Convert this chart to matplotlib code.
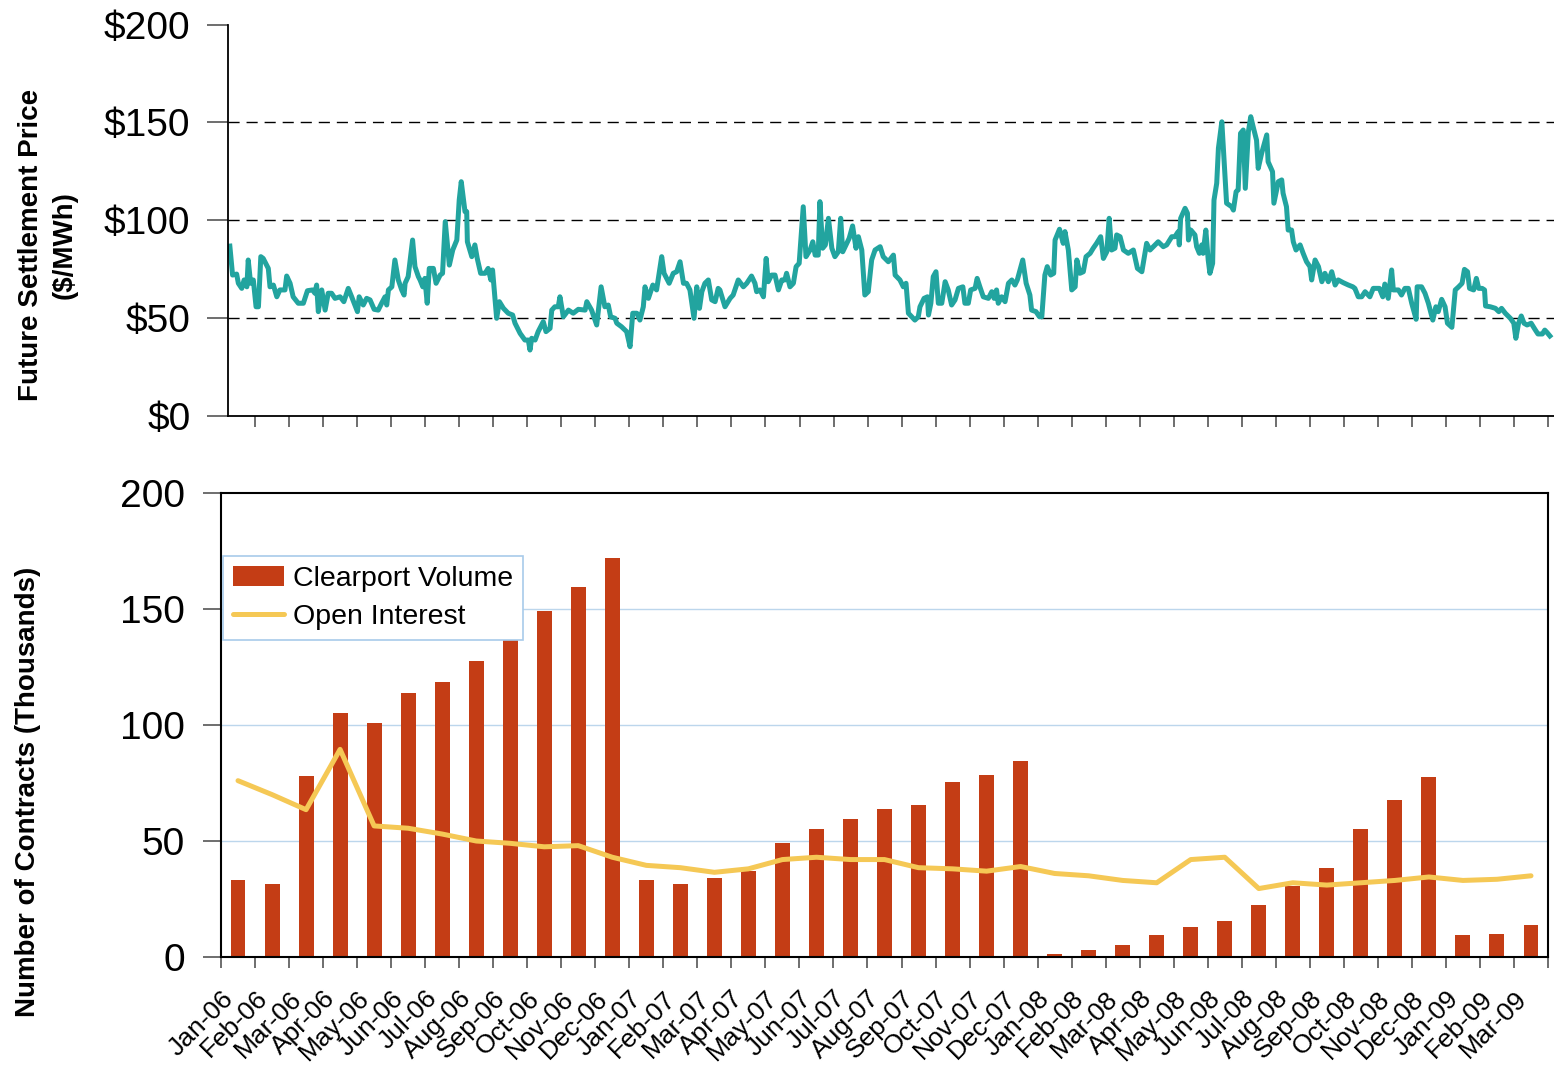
import matplotlib
matplotlib.use('Agg')
import matplotlib.pyplot as plt
import numpy as np

plt.rcParams['font.family'] = ['Liberation Sans', 'DejaVu Sans']

# monthly data, Jan-06 .. Mar-09
months = ['Jan-06', 'Feb-06', 'Mar-06', 'Apr-06', 'May-06', 'Jun-06', 'Jul-06', 'Aug-06',
          'Sep-06', 'Oct-06', 'Nov-06', 'Dec-06', 'Jan-07', 'Feb-07', 'Mar-07', 'Apr-07',
          'May-07', 'Jun-07', 'Jul-07', 'Aug-07', 'Sep-07', 'Oct-07', 'Nov-07', 'Dec-07',
          'Jan-08', 'Feb-08', 'Mar-08', 'Apr-08', 'May-08', 'Jun-08', 'Jul-08', 'Aug-08',
          'Sep-08', 'Oct-08', 'Nov-08', 'Dec-08', 'Jan-09', 'Feb-09', 'Mar-09']
clearport_volume = [33, 31.5, 78, 105, 101, 114, 118.5, 127.5, 137, 149, 159.5, 172,
                    33, 31.5, 34, 37, 49, 55, 59.5, 64, 65.5, 75.5, 78.5, 84.5,
                    1.2, 3, 5, 9.5, 13, 15.5, 22.5, 30.5, 38.5, 55, 67.5, 77.5,
                    9.5, 10, 14]
open_interest = [76, 70, 63.5, 89.5, 56.5, 55.5, 53, 50, 49, 47.5, 48, 43,
                 39.5, 38.5, 36.5, 38, 42, 43, 42, 42, 38.5, 38, 37, 39,
                 36, 35, 33, 32, 42, 43, 29.5, 32, 31, 32, 33, 34.5,
                 33, 33.5, 35]

# daily settlement price (sampled), time in months since 1 Jan 2006
price_t = [0.26, 0.34, 0.46, 0.51, 0.61, 0.68, 0.76, 0.80, 0.87, 0.95, 1.03, 1.10, 1.17, 1.24,
           1.39, 1.44, 1.54, 1.64, 1.73, 1.88, 1.93, 2.03, 2.12, 2.27, 2.42, 2.54, 2.69, 2.76,
           2.81, 2.86, 2.96, 3.06, 3.15, 3.25, 3.35, 3.50, 3.61, 3.74, 3.84, 4.01, 4.06, 4.18,
           4.28, 4.38, 4.50, 4.62, 4.72, 4.82, 4.87, 4.92, 5.02, 5.11, 5.21, 5.31, 5.38, 5.41,
           5.50, 5.63, 5.70, 5.80, 5.85, 5.93, 5.99, 6.06, 6.12, 6.24, 6.32, 6.44, 6.51, 6.59,
           6.71, 6.81, 6.93, 7.00, 7.06, 7.17, 7.22, 7.24, 7.37, 7.46, 7.53, 7.63, 7.76, 7.85,
           7.93, 7.98, 8.10, 8.18, 8.30, 8.44, 8.57, 8.64, 8.79, 8.93, 9.03, 9.08, 9.13, 9.23,
           9.32, 9.47, 9.55, 9.67, 9.72, 9.81, 9.91, 9.96, 10.06, 10.21, 10.35, 10.50, 10.70,
           10.75, 10.89, 11.04, 11.17, 11.28, 11.38, 11.45, 11.58, 11.63, 11.77, 11.87, 11.92,
           12.02, 12.10, 12.22, 12.31, 12.41, 12.46, 12.56, 12.69, 12.80, 12.95, 13.02, 13.17,
           13.29, 13.39, 13.49, 13.59, 13.68, 13.78, 13.90, 13.98, 14.06, 14.13, 14.22, 14.32,
           14.42, 14.52, 14.61, 14.66, 14.81, 14.96, 15.05, 15.20, 15.35, 15.45, 15.59, 15.69,
           15.74, 15.84, 15.94, 16.02, 16.08, 16.18, 16.28, 16.38, 16.48, 16.57, 16.62, 16.72,
           16.82, 16.90, 16.99, 17.11, 17.19, 17.31, 17.39, 17.46, 17.55, 17.60, 17.68, 17.76,
           17.85, 17.95, 18.04, 18.14, 18.21, 18.27, 18.39, 18.46, 18.56, 18.66, 18.73, 18.83,
           18.92, 19.02, 19.12, 19.22, 19.37, 19.46, 19.61, 19.76, 19.81, 19.95, 20.05, 20.13,
           20.20, 20.30, 20.39, 20.49, 20.54, 20.66, 20.76, 20.79, 20.86, 20.93, 21.01, 21.08,
           21.18, 21.28, 21.37, 21.47, 21.57, 21.67, 21.80, 21.86, 21.96, 22.03, 22.16, 22.22,
           22.30, 22.40, 22.55, 22.65, 22.72, 22.79, 22.84, 22.94, 23.04, 23.14, 23.24, 23.33,
           23.40, 23.48, 23.56, 23.66, 23.77, 23.82, 23.95, 24.05, 24.12, 24.21, 24.28, 24.38,
           24.47, 24.51, 24.64, 24.75, 24.80, 24.90, 25.00, 25.10, 25.15, 25.24, 25.34, 25.42,
           25.54, 25.63, 25.73, 25.85, 25.93, 26.03, 26.10, 26.17, 26.27, 26.32, 26.42, 26.52,
           26.66, 26.81, 26.93, 27.06, 27.20, 27.30, 27.45, 27.54, 27.69, 27.79, 27.94, 28.03,
           28.13, 28.16, 28.20, 28.33, 28.40, 28.43, 28.50, 28.62, 28.67, 28.75, 28.82, 28.86,
           28.94, 29.01, 29.06, 29.14, 29.18, 29.26, 29.31, 29.41, 29.47, 29.55, 29.70, 29.75,
           29.83, 29.89, 29.96, 30.04, 30.10, 30.19, 30.26, 30.33, 30.43, 30.48, 30.58, 30.73,
           30.77, 30.90, 30.94, 31.00, 31.07, 31.17, 31.21, 31.31, 31.36, 31.46, 31.51, 31.59,
           31.71, 31.80, 31.90, 32.00, 32.05, 32.15, 32.25, 32.35, 32.44, 32.54, 32.64, 32.74,
           32.83, 32.98, 33.13, 33.26, 33.32, 33.42, 33.52, 33.62, 33.76, 33.86, 34.04, 34.14,
           34.20, 34.30, 34.40, 34.45, 34.60, 34.69, 34.79, 34.89, 34.99, 35.12, 35.15, 35.28,
           35.38, 35.48, 35.61, 35.70, 35.77, 35.87, 35.97, 36.04, 36.17, 36.27, 36.37, 36.47,
           36.54, 36.63, 36.69, 36.81, 36.89, 36.96, 37.06, 37.13, 37.16, 37.30, 37.45, 37.55,
           37.63, 37.74, 37.89, 37.99, 38.05, 38.13, 38.21, 38.29, 38.38, 38.50, 38.61, 38.70,
           38.83, 38.90, 38.97, 39.05]
price = [86.8, 72, 72.5, 67.8, 65.2, 69.5, 66, 79.7, 67.8, 69.5, 55.8, 55.8, 81.4, 80.5,
         75.4, 66, 66.9, 60.9, 64.4, 64.4, 71.5, 67.8, 60.9, 57.6, 57.6, 64, 64.4, 62.7,
         66.9, 53.3, 64.4, 54.1, 62.7, 62.7, 60.1, 60.9, 58.4, 65.2, 60.9, 53.3, 60.9, 56.7,
         60.1, 59.3, 54.5, 54.1, 57.6, 60.9, 56.7, 64.4, 66, 79.7, 69.5, 64.4, 61.8, 67.8,
         71.2, 89.9, 76.3, 71.2, 69.5, 66, 70.3, 57.6, 75.4, 75.4, 67.8, 72, 72.9, 99.3,
         77.1, 84.8, 89.9, 110.3, 119.7, 104.4, 104.4, 89, 81.4, 87.4, 80.5, 72.9, 72.9, 75.4,
         69.5, 74.6, 49.9, 58.4, 55, 52.5, 51.6, 47.4, 42.2, 38.8, 38.8, 33.7, 39.7, 38.8,
         43.1, 48.2, 43.1, 44.8, 54.1, 55.8, 55.8, 60.9, 50.7, 54.1, 52.5, 54.5, 54.1,
         58.4, 54.1, 46.5, 66, 55.8, 56.7, 50.7, 49.9, 47.4, 45.6, 43.9, 43.1,
         35.4, 52.5, 52.5, 49, 55.8, 66, 60.1, 66.9, 64.4, 81.4, 72.9, 67.8,
         72.9, 73.7, 78.8, 67.8, 67.8, 64.4, 49.9, 66, 55, 63.5, 67.8, 69.5,
         59.3, 58.4, 65.2, 64.4, 55.8, 60.1, 61.8, 69.5, 66, 67.8, 71.5, 67.8,
         63.5, 64.4, 60.9, 80.5, 68.6, 72, 72, 64.4, 69.5, 69.5, 72.9, 66,
         67.8, 76.3, 78, 106.9, 81.4, 84.8, 89, 82.2, 82.2, 109.5, 85.7, 87.4,
         101, 85.7, 81.4, 83.9, 101, 83.9, 88.2, 90.8, 97.1, 85.7, 91.6, 84.8,
         61.8, 63.5, 79.7, 84.8, 86.5, 81.4, 78.8, 82.2, 72, 69.5, 66, 67.8,
         52.5, 50.7, 49, 50.7, 55.8, 60.1, 60.9, 51.6, 57.6, 71.2, 73.7, 57.6,
         57.6, 68.6, 64.4, 56.7, 59.3, 65.2, 66, 57.6, 57.6, 64.4, 65.2, 70.3,
         66, 60.9, 60.1, 63.5, 60.1, 64.4, 57.6, 60.9, 58.4, 67.8, 69.5, 66.9,
         69.5, 74.6, 79.7, 67.8, 61.8, 54.1, 53.3, 50.7, 50.7, 72, 76.3, 72,
         72.9, 89.9, 95.4, 88.2, 94.2, 84.8, 64.4, 66, 79.7, 72.9, 73.7, 81.4,
         83.1, 85.7, 88.2, 91.6, 80.5, 83.9, 101, 84.8, 85.7, 92.5, 91.6, 84.8,
         83.1, 84.8, 75.4, 73.7, 88.2, 84.8, 87.4, 89, 86.5, 87.4, 91.6, 91.6,
         94.2, 87.4, 101, 106.1, 103.6, 89.9, 95, 92.5, 86.5, 83.1, 87.4, 83.1,
         95, 79.7, 72.9, 78, 110.3, 118.9, 136.8, 150.3, 132.5, 108.7, 106.9, 105.2,
         114.6, 115.5, 144.4, 146.1, 116.3, 145.2, 152.9, 147.8, 140.9, 126.5, 134.2, 143.6,
         129.9, 124.8, 108.7, 113.8, 119.7, 120.6, 113.8, 106.9, 95, 95, 89, 84.8,
         87.4, 83.1, 78.8, 76.3, 69.5, 79.7, 76.3, 68.6, 72.9, 68.6, 73.7, 66.9,
         69.5, 68.1, 66.9, 66, 65.2, 60.9, 60.9, 63.5, 60.9, 65.2, 65.2, 60.9,
         67.4, 60.1, 74.6, 64.4, 64.4, 61.8, 65.2, 65.2, 57.6, 49.4, 66, 66,
         62.7, 57.6, 49, 55.8, 53.3, 59.6, 55.8, 47.4, 45.3, 64.4, 66, 67.8,
         74.9, 73.7, 65.2, 64.4, 70.3, 65.2, 65.2, 64.4, 56.2, 55.8, 55, 53.3,
         55, 52.5, 49.9, 47.4, 39.7, 47.4, 51.1, 47.4, 46.5, 47.4, 44.3, 41.9,
         41.9, 43.9, 42.6, 40.9]

W, H = 1554, 1069
fig = plt.figure(figsize=(W / 100, H / 100), dpi=100)

def px_box(left, top, right, bottom):
    return [left / W, 1 - bottom / H, (right - left) / W, (bottom - top) / H]

tick_font = 28
x = np.arange(len(months))

# ---- top panel: settlement price ----
ax1 = fig.add_axes(px_box(228, 24.5, 1554, 416))
ax1.plot(price_t, price, color='#22A49F', lw=3.6, solid_joinstyle='round')
ax1.set_ylim(0, 200)
ax1.set_xlim(7 / 34.03, (1554 - 221) / 34.03)
ax1.set_yticks([0, 50, 100, 150, 200])
ax1.set_yticklabels(['$0', '$50', '$100', '$150', '$200'])
ax1.set_xticks(np.arange(1, 40))
ax1.set_xticklabels([])
for v in [50, 100, 150]:
    ax1.axhline(v, color='black', lw=1, ls=(0, (8, 5)), zorder=0)
for s in ['top', 'right']:
    ax1.spines[s].set_visible(False)
ax1.spines['left'].set_linewidth(1.3)
ax1.spines['bottom'].set_linewidth(1.3)
ax1.tick_params(axis='y', length=15, width=1.2, pad=12, labelsize=tick_font, color='#555555')
ax1.tick_params(axis='x', length=8, width=1.2, direction='out', color='#555555')

fig.text(48 / W, 1 - 245 / H, 'Future Settlement Price\n($/MWh)', rotation=90,
         ha='center', va='center', fontsize=20, fontweight='bold', linespacing=1.35)

# ---- bottom panel: volume and open interest ----
ax2 = fig.add_axes(px_box(221, 493, 1548, 957))
bars = ax2.bar(x, clearport_volume, width=0.44, color='#C43D15', label='Clearport Volume', zorder=2)
line, = ax2.plot(x, open_interest, color='#F5C855', lw=3.6, label='Open Interest', zorder=3,
                 solid_joinstyle='round', solid_capstyle='round')
ax2.set_xlim(-0.5, len(months) - 0.5)
ax2.set_ylim(0, 200)
ax2.set_yticks([0, 50, 100, 150, 200])
for v in [50, 100, 150]:
    ax2.axhline(v, color='#BCD6EC', lw=1, zorder=1)
ax2.set_xticks(x)
ax2.set_xticklabels(months, rotation=45, ha='right', va='top', fontsize=19)
ax2.set_xticks(np.arange(-0.5, len(months)), minor=True)
ax2.tick_params(axis='x', which='major', length=0, pad=21)
ax2.tick_params(axis='x', which='minor', length=8, width=1.2, color='#555555')
ax2.tick_params(axis='y', length=13, width=1.2, pad=13, labelsize=tick_font, color='#555555')
for s in ax2.spines.values():
    s.set_linewidth(1.5)

leg = ax2.legend([bars, line], ['Clearport Volume', 'Open Interest'],
                 loc='upper left', bbox_to_anchor=(0.0015, 0.864), borderaxespad=0,
                 fontsize=20.5, frameon=True, fancybox=False, framealpha=1,
                 handlelength=1.8, handletextpad=0.3, labelspacing=0.42, borderpad=0.35)
leg.get_frame().set_edgecolor('#A8CBEA')
leg.get_frame().set_linewidth(1.2)

fig.text(28 / W, 1 - 792 / H, 'Number of Contracts (Thousands)', rotation=90,
         ha='center', va='center', fontsize=20, fontweight='bold')

fig.savefig('out.png', dpi=100)
